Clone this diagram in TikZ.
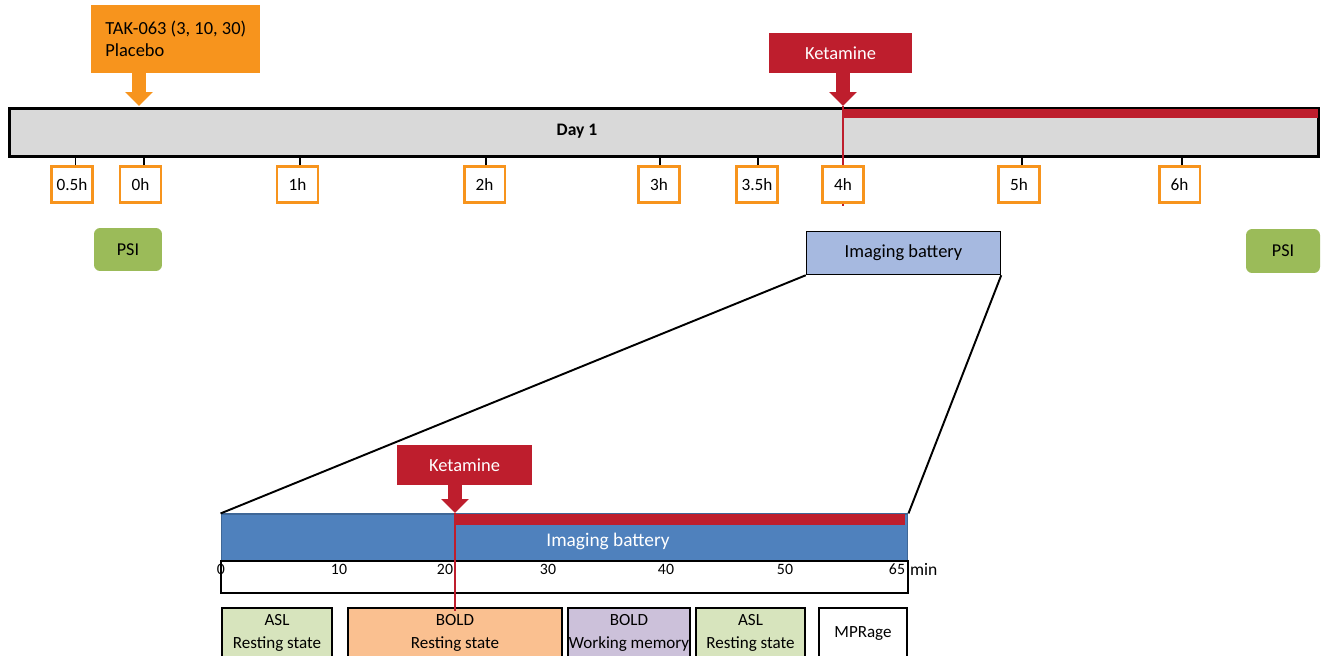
\documentclass[tikz,border=0pt]{standalone}
\usepackage{fontspec}
\setmainfont{Carlito}
\usepackage{xcolor}
\usetikzlibrary{arrows.meta, positioning}

\definecolor{takorange}{HTML}{F7941D}
\definecolor{ketred}{HTML}{BE1E2D}
\definecolor{daygray}{HTML}{D9D9D9}
\definecolor{psigreen}{HTML}{9BBB59}
\definecolor{imglight}{HTML}{A6B9E0}
\definecolor{imgblue}{HTML}{4F81BD}
\definecolor{aslgreen}{HTML}{D7E4BD}
\definecolor{boldorange}{HTML}{FAC090}
\definecolor{wmpurple}{HTML}{CCC1DA}

\begin{document}
\begin{tikzpicture}[
    x=0.02cm, y=-0.02cm,
    every node/.style={inner sep=0pt},
    daybar/.style={rectangle, draw, line width=1.7pt, fill=daygray, minimum width=26.18cm, minimum height=0.96cm},
    redbar/.style={rectangle, fill=ketred, anchor=north west},
    takbox/.style={rectangle, fill=takorange, inner xsep=0.28cm, minimum height=1.36cm, align=left, font=\fontsize{10.5}{12.6}\selectfont},
    ketbox/.style={rectangle, fill=ketred, text=white, minimum height=0.8cm, font=\fontsize{10.5}{12.6}\selectfont},
    hourbox/.style={rectangle, draw=takorange, line width=1.7pt, fill=white, minimum width=0.82cm, minimum height=0.72cm, font=\fontsize{9.8}{12}\selectfont},
    psibox/.style={rectangle, fill=psigreen, rounded corners=3.5pt, font=\fontsize{10.3}{12}\selectfont},
    imgbox/.style={rectangle, draw, line width=0.85pt, fill=imglight, minimum width=3.88cm, minimum height=0.86cm, font=\fontsize{10.5}{12.6}\selectfont},
    seqbox/.style={rectangle, draw, line width=1pt, minimum height=1cm, align=center, font=\fontsize{9.7}{13}\selectfont},
    axislbl/.style={font=\fontsize{9}{11}\selectfont},
    fatarrow/.style={line width=0.28cm, -{Triangle[length=0.28cm, width=0.54cm]}},
    ketline/.style={ketred, line width=0.85pt},
    tick/.style={line width=1pt},
    zoomline/.style={line width=1.1pt},
]
\useasboundingbox (0,0) rectangle (1323,656);
\clip (0,0) rectangle (1323,656);

% Day 1 bar
\node[daybar] (day) at (664,132.5) {};
\node[font=\bfseries\fontsize{10}{12}\selectfont] (daylbl) at (577,131) {Day 1};
\node[redbar, minimum width=9.5cm, minimum height=0.18cm] (ketday) at (843,109) {};

% Dosing
\node[takbox, anchor=west] (tak) at (91,39) {TAK-063 (3, 10, 30)\\Placebo};
\coordinate (takin) at (139,106);
\draw[fatarrow, takorange] (tak.south -| takin) -- (takin);

\node[ketbox, minimum width=2.86cm] (ket) at (840.5,53) {Ketamine};
\coordinate (ketin) at (843,106);
\coordinate (ket4h) at (843,206);
\draw[ketline] (ketin) -- (ket4h);
\draw[fatarrow, ketred] (ket.south -| ketin) -- (ketin);

% Time points
\node[hourbox] (h05) at (72,184.5) {0.5h};
\node[hourbox] (h0) at (140.5,184.5) {0h};
\node[hourbox] (h1) at (297.5,184.5) {1h};
\node[hourbox] (h2) at (484.5,184.5) {2h};
\node[hourbox] (h3) at (659,184.5) {3h};
\node[hourbox] (h35) at (757,184.5) {3.5h};
\node[hourbox] (h4) at (843,184.5) {4h};
\node[hourbox] (h5) at (1019,184.5) {5h};
\node[hourbox] (h6) at (1179.5,184.5) {6h};

\draw[tick] ([xshift=2pt]h05.north) -- ([xshift=2pt]h05.north |- day.south);
\draw[tick] ([xshift=2pt]h0.north) -- ([xshift=2pt]h0.north |- day.south);
\draw[tick] ([xshift=1.5pt]h1.north) -- ([xshift=1.5pt]h1.north |- day.south);
\draw[tick] ([xshift=1pt]h2.north) -- ([xshift=1pt]h2.north |- day.south);
\draw[tick] ([xshift=0.5pt]h3.north) -- ([xshift=0.5pt]h3.north |- day.south);
\draw[tick] ([xshift=0.5pt]h35.north) -- ([xshift=0.5pt]h35.north |- day.south);
\draw[tick] ([xshift=1.5pt]h5.north) -- ([xshift=1.5pt]h5.north |- day.south);
\draw[tick] ([xshift=1.5pt]h6.north) -- ([xshift=1.5pt]h6.north |- day.south);

% PSI and imaging
\node[psibox, minimum width=1.36cm, minimum height=0.86cm] (psipre) at (128,249.5) {PSI};
\node[psibox, minimum width=1.48cm, minimum height=0.88cm] (psipost) at (1283,251) {PSI};
\node[imgbox] (imgtop) at (903.5,253) {Imaging battery};

% Imaging battery detail
\node[rectangle, draw=imgblue!80!black, line width=0.6pt, fill=imgblue, minimum width=13.74cm, minimum height=0.94cm] (imgbar) at (564.5,537.5) {};
\node[text=white, font=\fontsize{11}{13}\selectfont] (imglbl) at (608,541) {Imaging battery};
\node[redbar, minimum width=9cm, minimum height=0.22cm] (ketimg) at (455,514) {};

\draw[zoomline] (imgtop.south west) -- (imgbar.north west);
\draw[zoomline] (imgtop.south east) -- (imgbar.north east);

\node[ketbox, minimum width=2.7cm] (ketb) at (464.5,465) {Ketamine};
\coordinate (ketbin) at (455,513);
\draw[fatarrow, ketred] (ketb.south -| ketbin) -- (ketbin);

% Minutes axis
\node[rectangle, draw, line width=1pt, fill=white, minimum width=13.74cm, minimum height=0.64cm] (axis) at (564.5,577) {};
\node[axislbl] (m0) at (221,569) {0};
\node[axislbl] (m10) at (339,569) {10};
\node[axislbl] (m20) at (445,569) {20};
\node[axislbl] (m30) at (548,569) {30};
\node[axislbl] (m40) at (666,569) {40};
\node[axislbl] (m50) at (785,569) {50};
\node[axislbl] (m65) at (897,569) {65};
\node[axislbl, font=\fontsize{10}{12}\selectfont, right=2.5pt of m65] (mmin) {min};

% Scan sequence
\node[seqbox, fill=aslgreen, minimum width=2.2cm] (asl1) at (277,633) {ASL\\Resting state};
\node[seqbox, fill=boldorange, minimum width=4.28cm] (boldrest) at (455,633) {BOLD\\Resting state};
\node[seqbox, fill=wmpurple, minimum width=2.44cm] (boldwm) at (629,633) {BOLD\\Working memory};
\node[seqbox, fill=aslgreen, minimum width=2.18cm] (asl2) at (750.5,633) {ASL\\Resting state};
\node[seqbox, fill=white, minimum width=1.76cm] (mprage) at (863,633) {MPRage};

\draw[ketline] (ketbin) -- ([yshift=-2pt]boldrest.north);
\end{tikzpicture}
\end{document}
